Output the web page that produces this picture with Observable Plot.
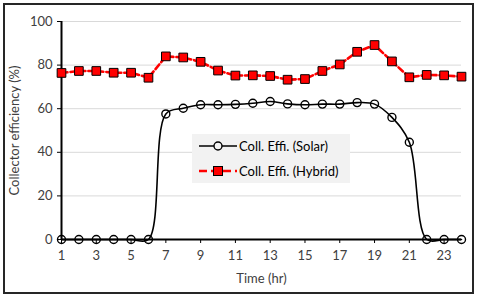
<!DOCTYPE html>
<html><head><meta charset="utf-8">
<script src="https://cdn.jsdelivr.net/npm/d3@7"></script>
<script src="https://cdn.jsdelivr.net/npm/@observablehq/plot@0.6"></script>
<style>
body{margin:0;background:#fff;font-family:Lato,"Open Sans",sans-serif;}
#wrap{position:relative;width:480px;height:299px;overflow:hidden;}
#border{position:absolute;left:3px;top:3px;width:467px;height:287px;border:2px solid #262626;pointer-events:none;}
#legend{position:absolute;left:192px;top:134px;width:158px;height:49px;background:#f2f2f2;font-size:13px;color:#000;font-family:Lato,"Open Sans",sans-serif;}
#legend .item{position:absolute;left:6px;display:flex;align-items:center;height:14px;}
#legend svg{margin-right:1px;}
</style>
</head><body>
<div id="wrap">
<div id="chart"></div>
<div id="legend"></div>
<div id="border"></div>
</div>
<script>
const hours = [1,2,3,4,5,6,7,8,9,10,11,12,13,14,15,16,17,18,19,20,21,22,23,24];
const solar = [0,0,0,0,0,0,57.6,60.2,61.8,61.8,62,62.5,63.3,62.2,61.8,62.1,62.1,62.8,62.1,56,44.6,0,0,0];
const hybrid = [76.4,77.3,77.3,76.5,76.5,74.2,84,83.5,81.5,77.5,75.2,75.3,75,73.3,73.6,77.3,80.3,86.1,89.2,81.7,74.4,75.5,75.3,74.7];
const xTicks = [1,3,5,7,9,11,13,15,17,19,21,23];
const yTicks = [0,20,40,60,80,100];
const seriesNames = ["Coll. Effi. (Solar)", "Coll. Effi. (Hybrid)"];
const xLabel = "Time (hr)";
const yLabel = "Collector efficiency (%)";

const solarData = hours.map((h,i)=>({h, v: solar[i]}));
const hybridData = hours.map((h,i)=>({h, v: hybrid[i]}));

const chart = Plot.plot({
  width: 480,
  height: 299,
  marginLeft: 61,
  marginRight: 19,
  marginTop: 21,
  marginBottom: 60,
  style: {fontFamily: "Lato, 'Open Sans', sans-serif", fontSize: "13px", color: "#404040", background: "transparent"},
  x: {domain: [1,24]},
  y: {domain: [0,100]},
  marks: [
    Plot.gridY(yTicks, {stroke: "#d9d9d9", strokeOpacity: 1, strokeWidth: 1}),
    Plot.axisX(xTicks, {tickSize: 4, tickPadding: 7, stroke: "#000", fill: "#404040", label: null, fontSize: 13}),
    Plot.axisY(yTicks, {tickSize: 4, tickPadding: 5, stroke: "#000", fill: "#404040", label: null, fontSize: 13}),
    Plot.text([xLabel], {frameAnchor: "bottom", dy: 43, fontSize: 13, fill: "#404040"}),
    Plot.text([yLabel], {frameAnchor: "left", textAnchor: "middle", rotate: -90, dx: -47, fontSize: 13, fill: "#404040"}),
    Plot.ruleY([0], {stroke: "#000", strokeWidth: 2}),
    Plot.ruleX([1], {stroke: "#000", strokeWidth: 2}),
    Plot.line(solarData, {x: "h", y: "v", curve: "catmull-rom", stroke: "#000", strokeWidth: 1.6}),
    Plot.dot(solarData, {x: "h", y: "v", r: 4, fill: "none", stroke: "#000", strokeWidth: 1.4}),
    Plot.line(hybridData, {x: "h", y: "v", stroke: "#ff0000", strokeWidth: 2.6, strokeDasharray: "6,3"}),
    Plot.dot(hybridData, {x: "h", y: "v", symbol: "square", r: 4.9, fill: "#ff0000", stroke: "#000", strokeWidth: 1})
  ]
});
document.getElementById("chart").appendChild(chart);

const legend = document.getElementById("legend");
const ns = "http://www.w3.org/2000/svg";
function item(top, name, kind){
  const d = document.createElement("div");
  d.className = "item";
  d.style.top = top + "px";
  const s = document.createElementNS(ns, "svg");
  s.setAttribute("width", 40); s.setAttribute("height", 14);
  const l = document.createElementNS(ns, "line");
  l.setAttribute("x1", 1); l.setAttribute("x2", 39); l.setAttribute("y1", 7); l.setAttribute("y2", 7);
  if (kind === "solar") {
    l.setAttribute("stroke", "#000"); l.setAttribute("stroke-width", 1.6);
    s.appendChild(l);
    const c = document.createElementNS(ns, "circle");
    c.setAttribute("cx", 20); c.setAttribute("cy", 7); c.setAttribute("r", 4);
    c.setAttribute("fill", "#f2f2f2"); c.setAttribute("stroke", "#000"); c.setAttribute("stroke-width", 1.4);
    s.appendChild(c);
  } else {
    l.setAttribute("stroke", "#ff0000"); l.setAttribute("stroke-width", 2.6); l.setAttribute("stroke-dasharray", "8,4");
    s.appendChild(l);
    const r = document.createElementNS(ns, "rect");
    r.setAttribute("x", 15.5); r.setAttribute("y", 2.5); r.setAttribute("width", 9); r.setAttribute("height", 9);
    r.setAttribute("fill", "#ff0000"); r.setAttribute("stroke", "#000"); r.setAttribute("stroke-width", 1);
    s.appendChild(r);
  }
  d.appendChild(s);
  const t = document.createElement("span");
  t.textContent = name;
  d.appendChild(t);
  legend.appendChild(d);
}
item(5, seriesNames[0], "solar");
item(30, seriesNames[1], "hybrid");
</script>
</body></html>
